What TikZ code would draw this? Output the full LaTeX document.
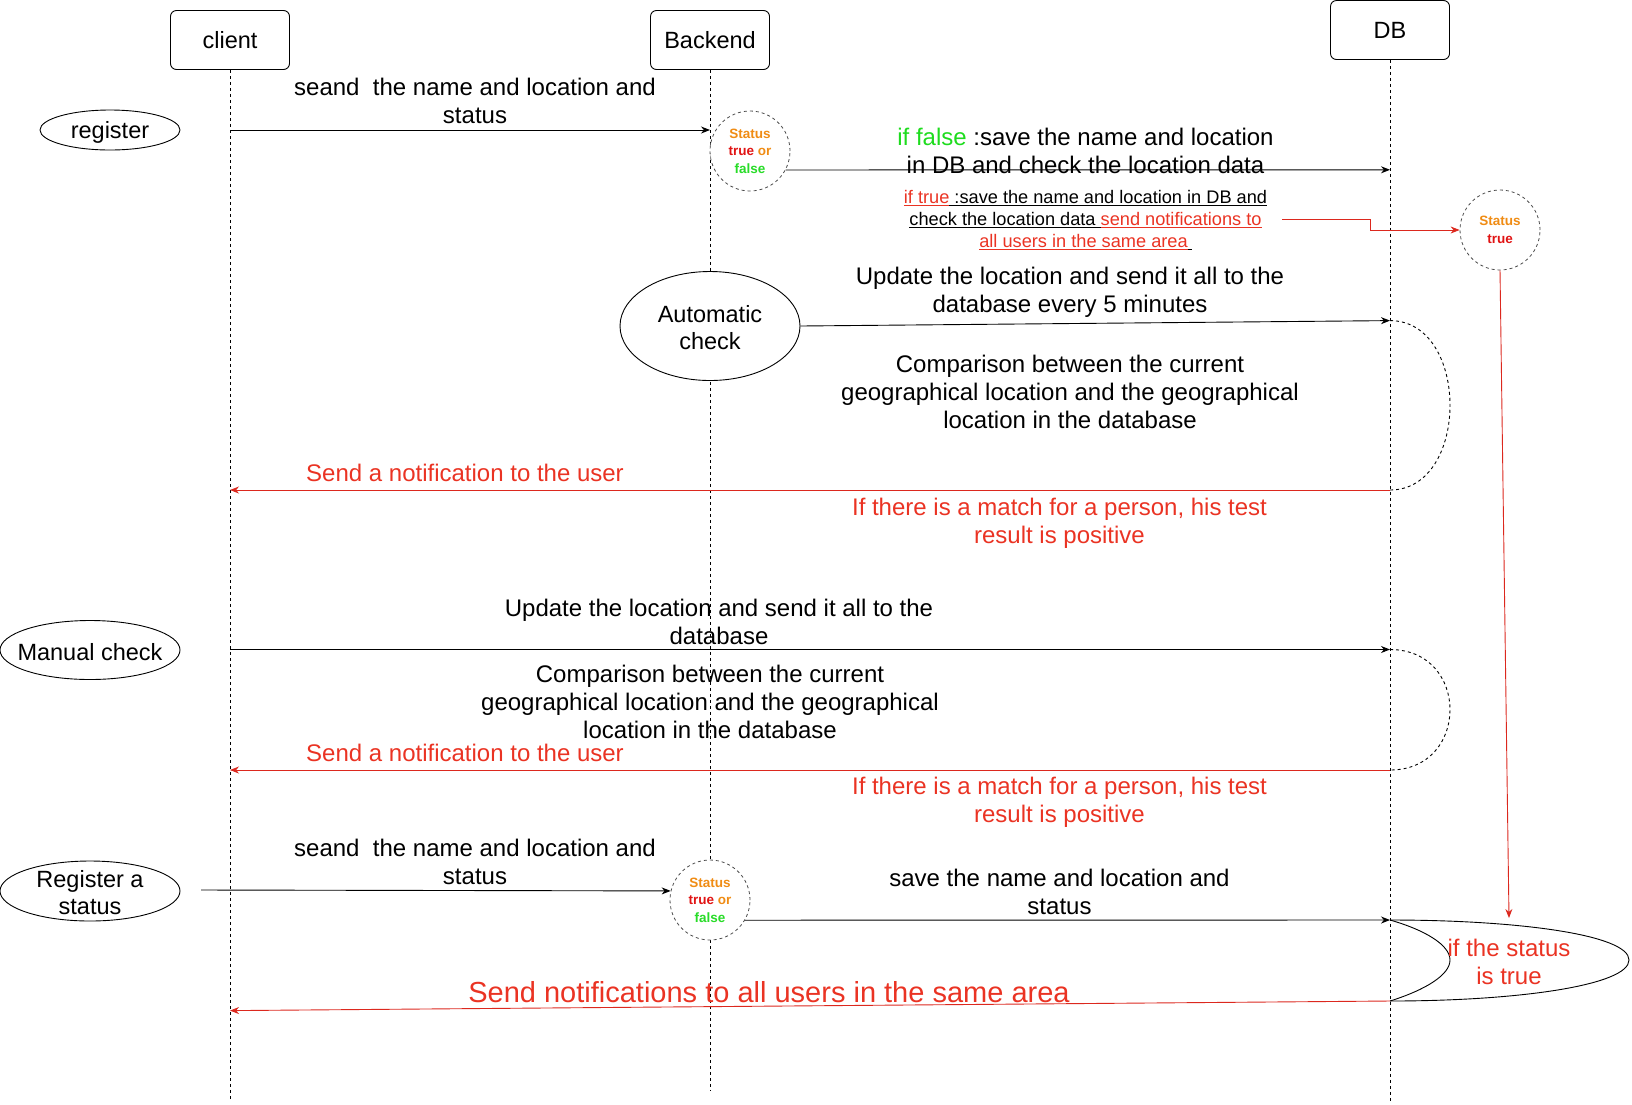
\documentclass[tikz,border=0pt]{standalone}
\usepackage{fontspec}
\setmainfont{Liberation Sans}
\usetikzlibrary{arrows.meta,shapes.geometric}
\definecolor{tred}{RGB}{234,51,35}
\definecolor{lred}{RGB}{220,40,30}
\definecolor{sorange}{RGB}{240,140,20}
\definecolor{sred}{RGB}{225,20,20}
\definecolor{sgreen}{RGB}{40,220,40}
\definecolor{fgreen}{RGB}{30,220,30}
\begin{document}
\begin{tikzpicture}[x=1pt,y=-1pt,
  head/.style={draw, rounded corners=6pt, minimum width=119pt, minimum height=59pt, font=\fontsize{23.5}{28}\selectfont, line width=0.9pt},
  actor/.style={draw, fill=white, ellipse, line width=0.9pt, inner sep=0pt},
  alab/.style={font=\fontsize{23.5}{27}\selectfont, align=center, inner sep=0pt, yshift=-2pt},
  life/.style={dash pattern=on 3pt off 3pt, line width=0.8pt},
  msg/.style={-{Stealth[length=9pt,width=7pt]}, line width=0.9pt},
  rmsg/.style={msg, draw=lred},
  lab/.style={font=\fontsize{24}{28}\selectfont, align=center, inner sep=0pt},
  slab/.style={font=\fontsize{18.2}{22}\selectfont, align=center, inner sep=0pt},
  rlab/.style={lab, text=tred},
  status/.style={circle, draw=black!70, fill=white, dash pattern=on 3pt off 3pt, line width=0.8pt, minimum size=80pt, inner sep=0pt, align=center, font=\fontsize{13.5}{17.5}\selectfont\bfseries},
  loopl/.style={draw, dash pattern=on 3pt off 3pt, line width=0.9pt}
]
\useasboundingbox (0,0) rectangle (1632,1104);

% heads
\node[head] (client) at (230,40) {client};
\node[head] (backend) at (710,40) {Backend};
\node[head] (db) at (1390,30) {DB};

% lifelines
\coordinate (clientEnd) at (230,1101);
\coordinate (backendEnd) at (710,1091);
\coordinate (dbEnd) at (1390,1101);
\draw[life] (client.south) -- (clientEnd);
\draw[life] (backend.south) -- (backendEnd);
\draw[life] (db.south) -- (dbEnd);

% actors
\node[actor, minimum width=140pt, minimum height=40pt, label={[alab]center:register}] (register) at (110,130) {};
\node[actor, minimum width=180pt, minimum height=59pt, label={[alab]center:Manual check}] (manual) at (90,650) {};
\node[actor, minimum width=180pt, minimum height=60pt, label={[alab]center:Register a\\status}] (regstat) at (90,891) {};
\node[actor, minimum width=180pt, minimum height=109pt, label={[alab]center:Automatic\\check}] (auto) at (710,326) {};

% status circles
\node[status] (st1) at (750,151) {\textcolor{sorange}{Status}\\\textcolor{sred}{true} \textcolor{sorange}{or}\\\textcolor{sgreen}{false}};
\node[status] (st2) at (1500,230) {\textcolor{sorange}{Status}\\\textcolor{sred}{true}};
\node[status] (st3) at (710,900) {\textcolor{sorange}{Status}\\\textcolor{sred}{true} \textcolor{sorange}{or}\\\textcolor{sgreen}{false}};

% register
\coordinate (c1) at (230,130);
\coordinate (b1) at (710,130);
\draw[msg] (c1) -- (b1);
\node[lab] (l1) at (475,101) {seand\ \ the name and location and\\status};

\coordinate (d1) at (1390,169.8);
\draw[msg] (st1.-28) -- (d1);
\node[lab] (l2) at (1085.5,151) {\textcolor{fgreen}{if false} :save the name and location\\in DB and check the location data};

\node[slab] (iftrue) at (1085.5,220) {\textcolor{tred}{\underline{if true}}\underline{ :save the name and location in DB and}\\
\underline{check the location data }\textcolor{tred}{\underline{send notifications to}}\\
\textcolor{tred}{\underline{all users in the same area}}\underline{\hspace{4pt}}};
\coordinate (t1) at (1282,219.6);
\draw[rmsg] (t1) -- ++(88,0) -- ++(0,10.4) -- (st2.west);

\coordinate (lp) at (1509,918);
\draw[rmsg] (st2.south) -- (lp);

% automatic check
\coordinate (d2) at (1390,320.6);
\coordinate (d3) at (1390,490);
\draw[msg] (auto.east) -- (d2);
\node[lab] (l3) at (1070,292) {Update the location and send it all to the\\database every 5 minutes};
\draw[loopl] (d2) .. controls (1470,320.6) and (1470,490) .. (d3);
\node[lab] (l4) at (1070,392) {Comparison between the current\\geographical location and the geographical\\location in the database};
\coordinate (c2) at (230,490);
\draw[rmsg] (d3) -- (c2);
\node[rlab] (l5) at (465,472.5) {Send a notification to the user};
\node[rlab] (l6) at (1059.5,523) {If there is a match for a person, his test\\result is positive};

% manual check
\coordinate (c3) at (230,649.5);
\coordinate (d4) at (1390,649.5);
\coordinate (d5) at (1390,770);
\draw[msg] (c3) -- (d4);
\node[lab] (l7) at (719,622) {Update the location and send it all to the\\database};
\draw[loopl] (d4) .. controls (1470,649.5) and (1470,770) .. (d5);
\node[lab] (l8) at (710,702) {Comparison between the current\\geographical location and the geographical\\location in the database};
\coordinate (c4) at (230,770);
\draw[rmsg] (d5) -- (c4);
\node[rlab] (l9) at (465,752.5) {Send a notification to the user};
\node[rlab] (l10) at (1059.5,802.5) {If there is a match for a person, his test\\result is positive};

% register a status
\coordinate (rs) at (201,890);
\draw[msg] (rs) -- (st3.167);
\node[lab] (l11) at (475,862) {seand\ \ the name and location and\\status};
\coordinate (d6) at (1390,920);
\coordinate (d7) at (1390,1001);
\draw[msg] (st3.-30) -- (d6);
\node[lab] (l12) at (1059.5,892) {save the name and location and\\status};
\draw[line width=0.9pt] (d6) .. controls (1520,920) and (1629,935) .. (1629,960) .. controls (1629,985) and (1520,1001) .. (d7);
\draw[line width=0.9pt] (d6) .. controls (1425,930) and (1450,945) .. (1450,960) .. controls (1450,975) and (1425,990) .. (d7);
\node[rlab] (l13) at (1509,961.5) {if the status\\is true};
\coordinate (c5) at (230,1010.6);
\draw[rmsg] (d7) -- (c5);
\node[font=\fontsize{29}{34}\selectfont, text=tred, inner sep=0pt] (l14) at (769,992) {Send notifications to all users in the same area};
\end{tikzpicture}
\end{document}
